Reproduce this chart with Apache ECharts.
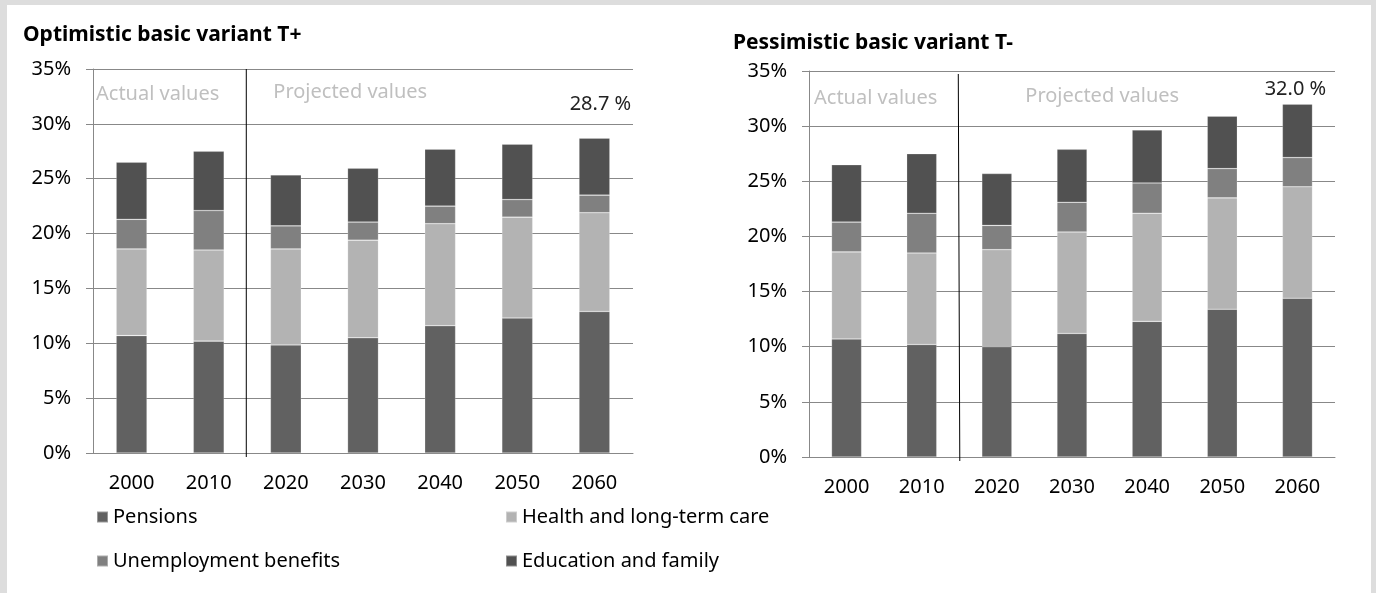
<!DOCTYPE html>
<html>
<head>
<meta charset="utf-8">
<script src="https://cdn.jsdelivr.net/npm/echarts@6/dist/echarts.min.js"></script>
<style>
  html, body { margin: 0; padding: 0; background: #dddddd; }
  #panel { position: absolute; left: 7px; top: 5px; width: 1364px; height: 588px; background: #ffffff; }
  #chart { position: absolute; left: 0; top: 0; width: 1376px; height: 593px; }
</style>
</head>
<body>
<div id="panel"></div>
<div id="chart"></div>
<script>
// Social expenditure as share of GDP, by component (in %)
const years = ['2000', '2010', '2020', '2030', '2040', '2050', '2060'];
const seriesNames = ['Pensions', 'Health and long-term care', 'Unemployment benefits', 'Education and family'];
const seriesColors = ['#616161', '#b3b3b3', '#808080', '#515151'];

// Optimistic basic variant T+
const optPensions     = [10.7, 10.2, 9.85, 10.5, 11.6, 12.3, 12.9];
const optHealth       = [7.9, 8.3, 8.75, 8.9, 9.3, 9.2, 9.0];
const optUnemployment = [2.7, 3.6, 2.1, 1.65, 1.6, 1.6, 1.6];
const optEducation    = [5.2, 5.4, 4.65, 4.9, 5.2, 5.05, 5.2];

// Pessimistic basic variant T-
const pesPensions     = [10.7, 10.2, 10.0, 11.2, 12.3, 13.4, 14.4];
const pesHealth       = [7.9, 8.3, 8.8, 9.2, 9.8, 10.1, 10.1];
const pesUnemployment = [2.7, 3.6, 2.2, 2.7, 2.75, 2.65, 2.65];
const pesEducation    = [5.2, 5.4, 4.7, 4.8, 4.8, 4.75, 4.85];

const titles = ['Optimistic basic variant T+', 'Pessimistic basic variant T-'];
const periodLabels = ['Actual values', 'Projected values'];

const FONT = 'Noto Sans';
const AXIS_GRAY = '#888888';

const chart = echarts.init(document.getElementById('chart'), null, { renderer: 'canvas' });

function totalAt(groups, i) {
  return groups.reduce((s, arr) => s + arr[i], 0);
}

function buildSeries(groups, gridIndex, labelOffset) {
  const last = years.length - 1;
  return groups.map((arr, k) => {
    const isTop = k === groups.length - 1;
    return {
      name: seriesNames[k],
      type: 'bar',
      stack: 'g' + gridIndex,
      xAxisIndex: gridIndex,
      yAxisIndex: gridIndex,
      barWidth: '40%',
      itemStyle: { color: seriesColors[k], borderColor: 'rgba(255,255,255,0.35)', borderWidth: 0.6 },
      emphasis: { disabled: true },
      data: arr.map((v, i) => (isTop && i === last) ? {
        value: v,
        label: {
          show: true,
          position: 'top',
          distance: 5,
          offset: labelOffset,
          fontFamily: FONT,
          fontSize: 20,
          color: '#222',
          formatter: () => totalAt(groups, i).toFixed(1) + ' %'
        }
      } : v)
    };
  });
}

function xAxis(gridIndex) {
  return {
    type: 'category',
    gridIndex,
    data: years,
    axisLine: { lineStyle: { color: AXIS_GRAY, width: 1 } },
    axisTick: { length: 8, lineStyle: { color: AXIS_GRAY } },
    axisLabel: { margin: 20, fontFamily: FONT, fontSize: 20, color: '#000' }
  };
}

function yAxis(gridIndex) {
  return {
    type: 'value',
    gridIndex,
    min: 0,
    max: 35,
    interval: 5,
    axisLine: { show: true, lineStyle: { color: AXIS_GRAY, width: 1 } },
    axisTick: { show: true, length: 7, lineStyle: { color: AXIS_GRAY } },
    splitLine: { lineStyle: { color: AXIS_GRAY, width: 1.2 } },
    axisLabel: { margin: 22, fontFamily: FONT, fontSize: 20, color: '#000', formatter: '{value}%' }
  };
}

function legendItem(name, left, top) {
  return {
    data: [name],
    left, top,
    padding: 0,
    icon: 'rect',
    itemWidth: 11,
    itemHeight: 11,
    selectedMode: false,
    textStyle: { fontFamily: FONT, fontSize: 20, color: '#000' }
  };
}

const option = {
  animation: false,
  title: [
    { text: titles[0], left: 23, top: 25, padding: 0,
      textStyle: { fontFamily: FONT, fontSize: 21, fontWeight: 'bold', color: '#000' } },
    { text: titles[1], left: 733, top: 33, padding: 0,
      textStyle: { fontFamily: FONT, fontSize: 21, fontWeight: 'bold', color: '#000' } }
  ],
  grid: [
    { left: 93, top: 69, width: 540, height: 384 },
    { left: 809, top: 71, width: 526, height: 386 }
  ],
  xAxis: [xAxis(0), xAxis(1)],
  yAxis: [yAxis(0), yAxis(1)],
  legend: [
    legendItem(seriesNames[0], 96, 507),
    legendItem(seriesNames[1], 505, 507),
    legendItem(seriesNames[2], 96, 551),
    legendItem(seriesNames[3], 505, 551)
  ],
  series: [
    ...buildSeries([optPensions, optHealth, optUnemployment, optEducation], 0, [6, -19]),
    ...buildSeries([pesPensions, pesHealth, pesUnemployment, pesEducation], 1, [-2, 0])
  ]
};

chart.setOption(option);

// Divider between actual and projected periods, plus period captions
function periodGraphics(gridIndex, actualDx, projectedDx, captionDy) {
  const xa = chart.convertToPixel({ xAxisIndex: gridIndex }, years[1]);
  const xb = chart.convertToPixel({ xAxisIndex: gridIndex }, years[2]);
  const yTop = chart.convertToPixel({ yAxisIndex: gridIndex }, 35);
  const yZero = chart.convertToPixel({ yAxisIndex: gridIndex }, 0);
  const xLeft = chart.convertToPixel({ xAxisIndex: gridIndex }, years[0]) - (xb - xa) / 2;
  const xDiv = (xa + xb) / 2 - 1;
  return [
    { type: 'line', silent: true, z: 10,
      shape: { x1: xDiv, y1: yTop + (gridIndex ? 3 : 0), x2: xDiv + (gridIndex ? 1.5 : 0), y2: yZero + 4 },
      style: { stroke: '#000', lineWidth: 1 } },
    { type: 'text', silent: true, z: 10, x: xLeft + actualDx, y: yTop + captionDy,
      style: { text: periodLabels[0], font: '20px "' + FONT + '"', fill: '#bfbfbf', verticalAlign: 'middle' } },
    { type: 'text', silent: true, z: 10, x: xDiv + projectedDx, y: yTop + captionDy - 2,
      style: { text: periodLabels[1], font: '20px "' + FONT + '"', fill: '#bfbfbf', verticalAlign: 'middle' } }
  ];
}

chart.setOption({
  graphic: [
    ...periodGraphics(0, 3, 27, 25),
    ...periodGraphics(1, 5, 67, 27)
  ]
});
</script>
</body>
</html>
